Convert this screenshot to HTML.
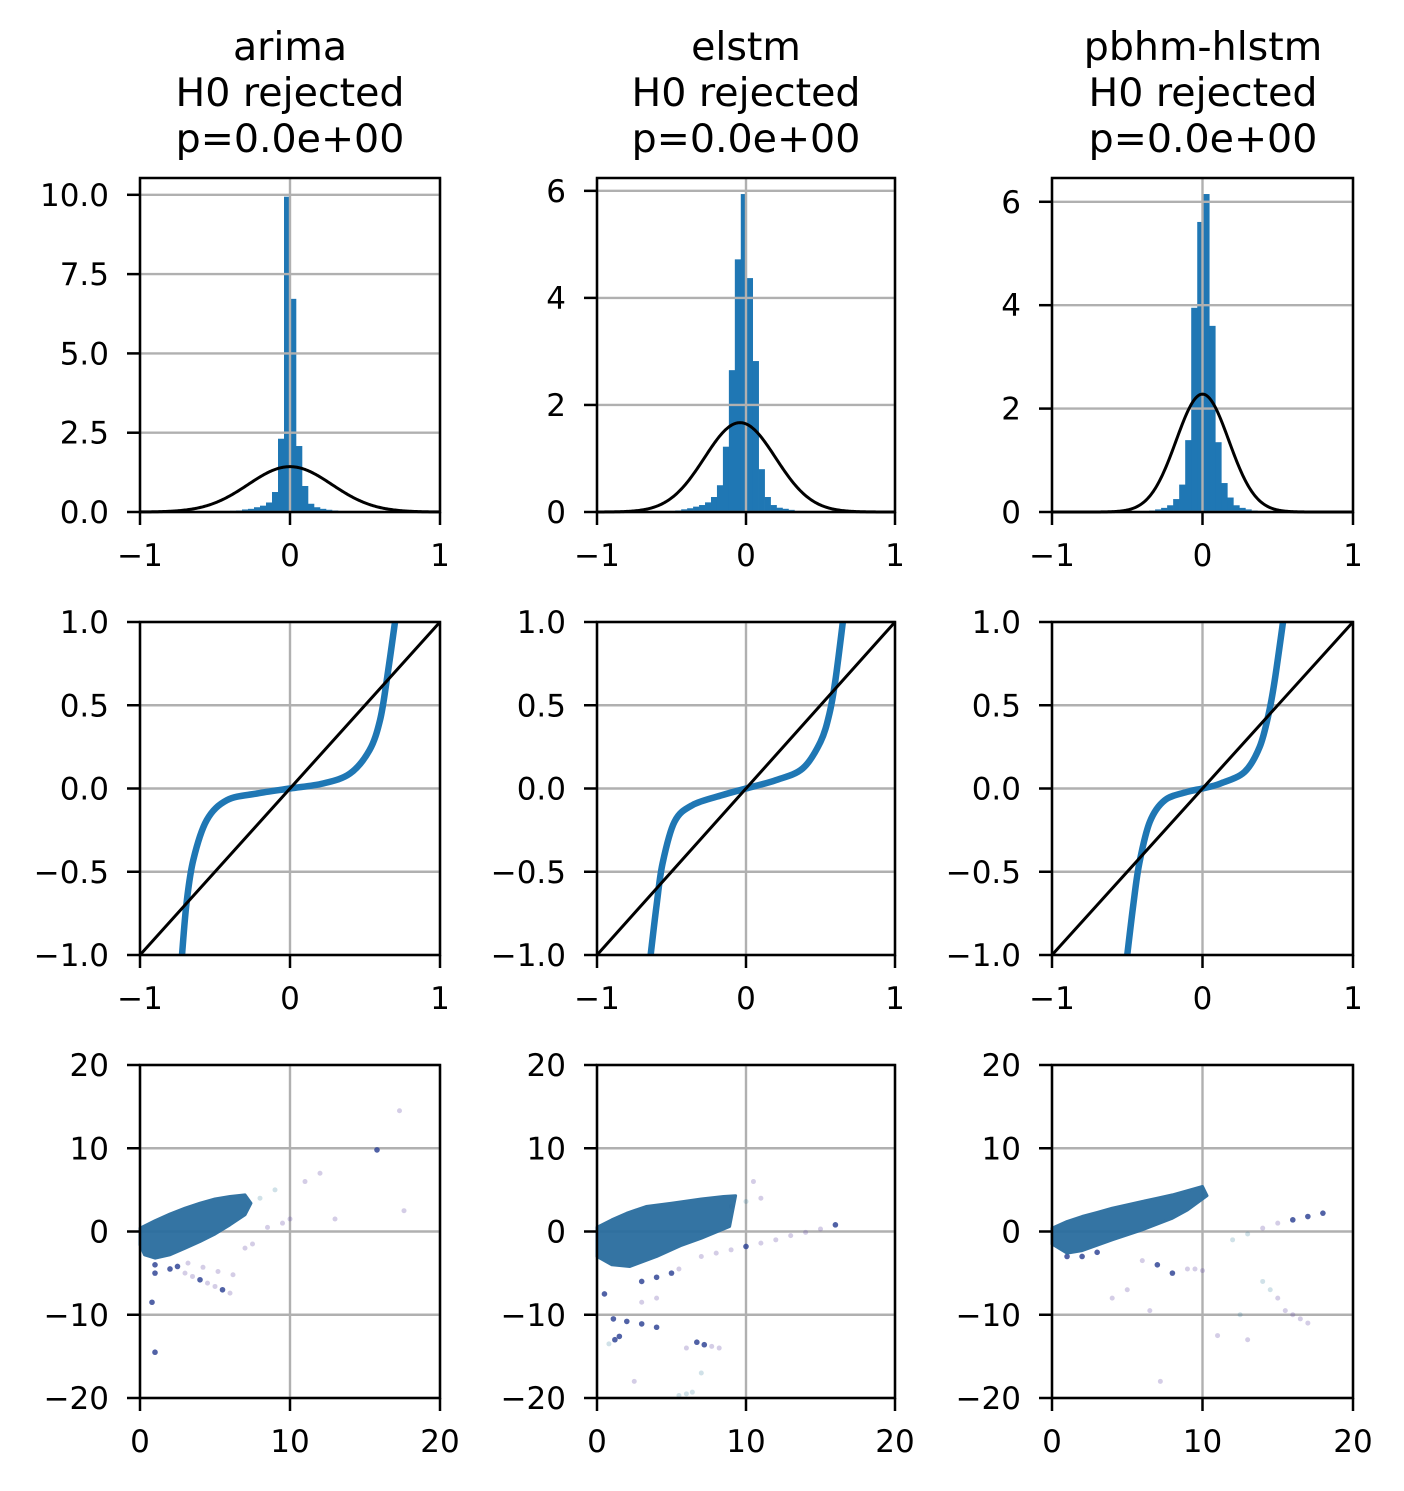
<!DOCTYPE html>
<html><head><meta charset="utf-8">
<style>
html,body{margin:0;padding:0;background:#fff;}
svg{display:block;font-family:"DejaVu Sans","Liberation Sans",sans-serif;}
</style></head>
<body>
<svg id="fig" width="1404" height="1491" viewBox="0 0 1404 1491" xmlns="http://www.w3.org/2000/svg">
<rect width="1404" height="1491" fill="#fff"/>
<g font-size="39.5" text-anchor="middle" fill="#000">
<text x="290" y="60">arima</text><text x="290" y="106">H0 rejected</text><text x="290" y="152">p=0.0e+00</text></g>
<g font-size="39.5" text-anchor="middle" fill="#000">
<text x="746" y="60">elstm</text><text x="746" y="106">H0 rejected</text><text x="746" y="152">p=0.0e+00</text></g>
<g font-size="39.5" text-anchor="middle" fill="#000">
<text x="1203" y="60">pbhm-hlstm</text><text x="1203" y="106">H0 rejected</text><text x="1203" y="152">p=0.0e+00</text></g>
</svg>
<script>
// ---------- data ----------
const modelNames = ["arima","elstm","pbhm-hlstm"];
const histBinWidth = 0.04;
const histStart = [-0.48, -0.515, -0.395];
const histArima = [0.02,0.03,0.04,0.05,0.08,0.1,0.15,0.2,0.3,0.63,2.31,9.94,6.72,2.08,0.82,0.26,0.15,0.1,0.07,0.05,0.03,0.02,0.01];
const histElstm = [0.02,0.03,0.05,0.07,0.1,0.13,0.18,0.28,0.5,1.22,2.65,4.72,5.94,4.37,2.82,0.8,0.28,0.13,0.08,0.06,0.04,0.02,0.02];
const histPbhm = [0.02,0.03,0.05,0.08,0.13,0.25,0.53,1.39,3.95,5.61,6.15,3.6,1.35,0.56,0.28,0.13,0.08,0.05,0.03,0.02];
const normMu = [0, -0.04, 0];
const normSd = [0.279, 0.239, 0.175];
const histYMax = [10.53, 6.24, 6.46];
const histYTicks = [[0,2.5,5,7.5,10],[0,2,4,6],[0,2,4,6]];
const histYLabels = [["0.0","2.5","5.0","7.5","10.0"],["0","2","4","6"],["0","2","4","6"]];
const unitTicks = [-1,0,1];
const unitLabels = ["\u22121","0","1"];
const qqTicksY = [-1,-0.5,0,0.5,1];
const qqLabelsY = ["\u22121.0","\u22120.5","0.0","0.5","1.0"];
const qqXArima = [-0.72,-0.69,-0.645,-0.555,-0.42,-0.22,0,0.22,0.4,0.53,0.6,0.645,0.7];
const qqYArima = [-1,-0.69,-0.43,-0.19,-0.07,-0.03,0,0.03,0.09,0.23,0.41,0.65,1];
const qqXElstm = [-0.64,-0.6,-0.56,-0.48,-0.36,-0.16,0,0.2,0.38,0.5,0.56,0.6,0.65];
const qqYElstm = [-1,-0.7,-0.45,-0.2,-0.1,-0.04,0,0.05,0.12,0.28,0.45,0.65,1];
const qqXPbhm = [-0.5,-0.46,-0.42,-0.35,-0.25,-0.1,0,0.12,0.28,0.38,0.44,0.48,0.535];
const qqYPbhm = [-1,-0.7,-0.45,-0.2,-0.07,-0.02,0,0.03,0.1,0.25,0.45,0.65,1];
const scTicksX = [0,10,20];
const scLabelsX = ["0","10","20"];
const scTicksY = [-20,-10,0,10,20];
const scLabelsY = ["\u221220","\u221210","0","10","20"];
// scatter dense-cluster outlines
const blobXArima = [0,1,2,3,4,5,6,7,7.4,7,6,5,4,3,2,1,0.3,0];
const blobYArima = [0.4,1.3,2.1,2.8,3.4,3.9,4.2,4.4,3.4,2,0.8,-0.3,-1.2,-2,-2.8,-3.2,-2.8,-1.6];
const blobXElstm = [0,1,2,3.3,5,7,8.5,9.3,8.9,7,5.6,4,2.2,1,0];
const blobYElstm = [0.5,1.4,2.2,3,3.4,3.9,4.2,4.3,0.6,-0.8,-1.7,-3,-4.2,-4,-3];
const blobXPbhm = [0,1,2,3,4,5,6,7,8,9,10,10.3,9,8,6,4,2,1,0];
const blobYPbhm = [0.4,1.2,1.8,2.3,2.8,3.2,3.6,4,4.4,4.9,5.4,4.3,2.6,1.6,0.2,-1,-2.3,-2.6,-1.5];
// scatter individual points (x, y, kind: 0 purple faint, 1 teal faint, 2 dark)
const ptsXArima = [17.3,15.8,17.6,13,10,8,9,11,12,1,1,0.8,1,3,3.5,4,4.5,5,5.5,6,3.2,4.2,5.2,6.2,8.5,9.5,2,2.5,7,7.5];
const ptsYArima = [14.5,9.8,2.5,1.5,1.5,4,5,6,7,-4,-5,-8.5,-14.5,-5,-5.4,-5.8,-6.2,-6.6,-7,-7.4,-3.8,-4.3,-4.8,-5.2,0.5,1,-4.5,-4.2,-2,-1.5];
const ptsKArima = [0,2,0,0,0,1,1,0,0,2,2,2,2,0,0,2,0,0,2,0,0,0,0,0,0,0,2,2,0,0];
const ptsXElstm = [7,8,9,10,11,12,13,14,15,16,3,4,5,5.5,1.1,2,3,4,6.7,7.2,7.7,8.2,5.5,6,6.4,0.8,1.2,1.5,9,10,11,10.5,3,4,0.5,2.5,6,7];
const ptsYElstm = [-3,-2.6,-2.2,-1.8,-1.4,-1,-0.5,-0.1,0.3,0.8,-6,-5.5,-5,-4.5,-10.5,-10.8,-11.1,-11.5,-13.3,-13.6,-13.8,-14,-19.7,-19.5,-19.3,-13.5,-13,-12.6,3,3.6,4,6,-8.5,-8,-7.5,-18,-14,-17];
const ptsKElstm = [0,0,0,2,0,0,0,0,0,2,2,2,2,0,2,2,2,2,2,2,0,0,1,1,1,1,2,2,1,1,0,0,0,0,2,0,0,1];
const ptsXPbhm = [12,13,14,15,16,17,18,14,14.5,15,15.5,16,16.5,17,9,9.5,10,8,7,6,5,4,11,12.5,3,2,6.5,7.2,1,13];
const ptsYPbhm = [-1,-0.3,0.4,1,1.4,1.8,2.2,-6,-7,-8,-9.5,-10,-10.5,-11,-4.5,-4.5,-4.7,-5,-4,-3.5,-7,-8,-12.5,-10,-2.5,-3,-9.5,-18,-3,-13];
const ptsKPbhm = [1,1,0,0,2,2,2,1,1,0,0,0,0,0,0,0,0,2,2,0,0,0,0,1,2,2,0,0,2,0];

// ---------- layout ----------
const colX = [140, 597, 1052];
const colW = [300, 298, 301];
const rowY = [178, 622, 1065];
const rowH = [334, 333, 333];
const NS = "http://www.w3.org/2000/svg";
const svg = document.getElementById("fig");
function mk(tag, attrs, parent){
  const e = document.createElementNS(NS, tag);
  for (const k in attrs) e.setAttribute(k, attrs[k]);
  (parent||svg).appendChild(e);
  return e;
}
function scale(d0,d1,r0,r1){ return v => r0 + (v-d0)/(d1-d0)*(r1-r0); }

function axesFrame(g, x0, y0, w, h, sx, sy, xt, xl, yt, yl){
  const grid = mk("g", {}, g);
  
  
  xt.forEach(v => mk("line",{x1:sx(v),x2:sx(v),y1:y0,y2:y0+h,stroke:"#b0b0b0","stroke-width":2.4},grid));
  yt.forEach(v => mk("line",{x1:x0,x2:x0+w,y1:sy(v),y2:sy(v),stroke:"#b0b0b0","stroke-width":2.4},grid));
}
function axesTop(g, x0, y0, w, h, sx, sy, xt, xl, yt, yl){
  const fr = mk("rect",{x:x0,y:y0,width:w,height:h,fill:"none",stroke:"#000","stroke-width":2.5},g);
  
  
  const xa = mk("g",{"font-size":31,"text-anchor":"middle"},g);
  
  
  xt.forEach((v,i) => {
    mk("line",{x1:sx(v),x2:sx(v),y1:y0+h,y2:y0+h+13,stroke:"#000","stroke-width":2.5},xa);
    const t = mk("text",{x:sx(v),y:y0+h+54},xa);
    
    
    t.textContent = xl[i];
  });
  const ya = mk("g",{"font-size":31,"text-anchor":"end"},g);
  
  
  yt.forEach((v,i) => {
    mk("line",{x1:x0-13,x2:x0,y1:sy(v),y2:sy(v),stroke:"#000","stroke-width":2.5},ya);
    const t = mk("text",{x:x0-31,y:sy(v)+11},ya);
    
    
    t.textContent = yl[i];
  });
}

const hists = [histArima, histElstm, histPbhm];
const qqX = [qqXArima, qqXElstm, qqXPbhm];
const qqY = [qqYArima, qqYElstm, qqYPbhm];
const blobX = [blobXArima, blobXElstm, blobXPbhm];
const blobY = [blobYArima, blobYElstm, blobYPbhm];
const ptsX = [ptsXArima, ptsXElstm, ptsXPbhm];
const ptsY = [ptsYArima, ptsYElstm, ptsYPbhm];
const ptsK = [ptsKArima, ptsKElstm, ptsKPbhm];
const kindFill = ["rgba(100,75,165,0.28)","rgba(40,120,150,0.22)","rgba(50,70,150,0.85)"];

for (let c=0;c<3;c++){
  const x0 = colX[c], w = colW[c];
  // ---- histogram ----
  {
    const y0 = rowY[0], h = rowH[0];
    const g = mk("g",{});
    
    
    const sx = scale(-1,1,x0,x0+w), sy = scale(0,histYMax[c],y0+h,y0);
    const bars = mk("g",{},g);
    
    
    hists[c].forEach((v,i) => {
      const a = histStart[c] + i*histBinWidth, b = a + histBinWidth;
      const r = mk("rect",{x:sx(a),y:sy(v),width:sx(b)-sx(a)+0.3,height:sy(0)-sy(v),fill:"#1f77b4"},bars);
      
      
    });
    axesFrame(g,x0,y0,w,h,sx,sy,unitTicks,unitLabels,histYTicks[c],histYLabels[c]);
    let d = "";
    for (let k=0;k<=300;k++){
      const xv = -1 + 2*k/300;
      const yv = Math.exp(-0.5*Math.pow((xv-normMu[c])/normSd[c],2))/(normSd[c]*Math.sqrt(2*Math.PI));
      d += (k?"L":"M") + sx(xv).toFixed(2) + "," + sy(yv).toFixed(2);
    }
    const p = mk("path",{d:d,fill:"none",stroke:"#000","stroke-width":3},g);
    
    
    axesTop(g,x0,y0,w,h,sx,sy,unitTicks,unitLabels,histYTicks[c],histYLabels[c]);
  }
  // ---- QQ plot ----
  {
    const y0 = rowY[1], h = rowH[1];
    const g = mk("g",{});
    
    
    const sx = scale(-1,1,x0,x0+w), sy = scale(-1,1,y0+h,y0);
    axesFrame(g,x0,y0,w,h,sx,sy,unitTicks,unitLabels,qqTicksY,qqLabelsY);
    const clip = mk("clipPath",{id:"clipq"+c},g);
    mk("rect",{x:x0,y:y0,width:w,height:h},clip);
    const P = qqX[c].map((v,i)=>[sx(v),sy(qqY[c][i])]);
    let d = "M"+P[0][0]+","+P[0][1];
    for (let i=0;i<P.length-1;i++){
      const p0=P[Math.max(0,i-1)],p1=P[i],p2=P[i+1],p3=P[Math.min(P.length-1,i+2)];
      const c1=[p1[0]+(p2[0]-p0[0])/6,p1[1]+(p2[1]-p0[1])/6];
      const c2=[p2[0]-(p3[0]-p1[0])/6,p2[1]-(p3[1]-p1[1])/6];
      d += "C"+c1[0].toFixed(2)+","+c1[1].toFixed(2)+" "+c2[0].toFixed(2)+","+c2[1].toFixed(2)+" "+p2[0].toFixed(2)+","+p2[1].toFixed(2);
    }
    const q = mk("path",{d:d,fill:"none",stroke:"#1f77b4","stroke-width":6.5,"clip-path":"url(#clipq"+c+")"},g);
    
    
    const ref = mk("line",{x1:sx(-1),y1:sy(-1),x2:sx(1),y2:sy(1),stroke:"#000","stroke-width":3},g);
    
    
    axesTop(g,x0,y0,w,h,sx,sy,unitTicks,unitLabels,qqTicksY,qqLabelsY);
  }
  // ---- scatter ----
  {
    const y0 = rowY[2], h = rowH[2];
    const g = mk("g",{});
    
    
    const sx = scale(0,20,x0,x0+w), sy = scale(-20,20,y0+h,y0);
    axesFrame(g,x0,y0,w,h,sx,sy,scTicksX,scLabelsX,scTicksY,scLabelsY);
    const pts = mk("g",{},g);
    
    
    ptsX[c].forEach((v,i) => {
      const k = ptsK[c][i];
      const e = mk("circle",{cx:sx(v),cy:sy(ptsY[c][i]),r:k===2?2.8:2.5,fill:kindFill[k]},pts);
      
      
    });
    const bp = blobX[c].map((v,i)=>sx(v).toFixed(1)+","+sy(blobY[c][i]).toFixed(1)).join(" ");
    const blob = mk("polygon",{points:bp,fill:"#2a6d9f","stroke":"#2a6d9f","stroke-width":3,"stroke-linejoin":"round","opacity":0.95},g);
    
    
    axesTop(g,x0,y0,w,h,sx,sy,scTicksX,scLabelsX,scTicksY,scLabelsY);
  }
}
</script>
</body></html>
